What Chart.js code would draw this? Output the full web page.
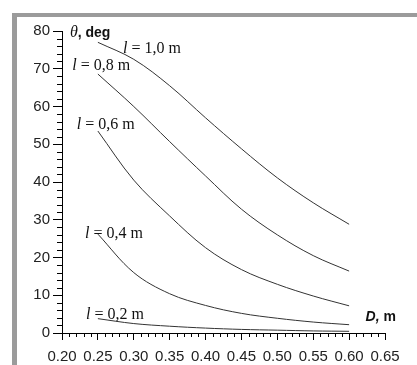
<!DOCTYPE html>
<html lang="en">
<head>
  <meta charset="UTF-8" />
  <title>Angle vs diameter</title>
  <script src="https://cdn.jsdelivr.net/npm/chart.js"></script>
  <style>
    body {
      margin: 0;
      background: #fff;
      overflow: hidden;
    }
    #wrap {
      position: relative;
      width: 417px;
      height: 365px;
    }
    #frame {
      position: absolute;
      left: 12px;
      top: 13px;
      width: 405px;
      height: 352px;
      border-top: 4px solid #9b9b9b;
      border-left: 5px solid #9b9b9b;
      box-sizing: border-box;
      pointer-events: none;
    }
  </style>
</head>
<body>
  <div id="wrap">
    <canvas id="angleChart" width="417" height="365"></canvas>
    <div id="frame"></div>
  </div>

  <script>
    const diameters = [0.25, 0.30, 0.35, 0.40, 0.45, 0.50, 0.55, 0.60];
    // theta (deg) for each rod length l
    const theta10 = [77.0, 72.5, 65.5, 57.0, 48.8, 41.1, 34.5, 28.8];
    const theta08 = [68.6, 60.0, 50.7, 41.6, 32.8, 26.0, 20.5, 16.4];
    const theta06 = [53.5, 40.5, 31.0, 22.6, 16.8, 12.9, 9.8, 7.2];
    const theta04 = [26.2, 16.0, 10.4, 7.3, 5.2, 3.9, 2.9, 2.2];
    const theta02 = [3.8, 2.5, 1.8, 1.3, 0.95, 0.75, 0.55, 0.45];
    const lengthLabels = ['1,0', '0,8', '0,6', '0,4', '0,2'];
    const xTicks = [0.20, 0.25, 0.30, 0.35, 0.40, 0.45, 0.50, 0.55, 0.60, 0.65];
    const yTicks = [0, 10, 20, 30, 40, 50, 60, 70, 80];

    const series = [theta10, theta08, theta06, theta04, theta02];

    // where each "l = ..." label sits, in data units (left edge, vertical middle)
    const labelAnchors = [
      { x: 0.285, y: 75.3 },
      { x: 0.2143, y: 70.7 },
      { x: 0.2205, y: 55.1 },
      { x: 0.232, y: 26.4 },
      { x: 0.2334, y: 4.9 }
    ];

    const toPoints = vals => vals.map((v, i) => ({ x: diameters[i], y: v }));

    const tickFont = { family: "'Liberation Sans', Arial, sans-serif", size: 15 };

    const minorTicks = {
      id: 'minorTicks',
      afterDraw(chart) {
        const { ctx, scales: { x, y }, chartArea } = chart;
        ctx.save();
        ctx.strokeStyle = '#000';
        ctx.lineWidth = 1;
        ctx.beginPath();
        for (let i = 20; i <= 65; i++) {
          if (i % 5 === 0) continue;
          const px = Math.round(x.getPixelForValue(i / 100)) + 0.5;
          ctx.moveTo(px, chartArea.bottom);
          ctx.lineTo(px, chartArea.bottom + 4);
        }
        for (let j = 0; j <= 80; j += 2) {
          if (j % 10 === 0) continue;
          const py = Math.round(y.getPixelForValue(j)) + 0.5;
          ctx.moveTo(chartArea.left - 5, py);
          ctx.lineTo(chartArea.left, py);
        }
        ctx.stroke();
        ctx.restore();
      }
    };

    const annotations = {
      id: 'annotations',
      afterDraw(chart) {
        const { ctx, scales: { x, y } } = chart;
        ctx.save();
        ctx.fillStyle = '#111';
        ctx.textBaseline = 'middle';
        ctx.textAlign = 'left';
        const serif = "'Liberation Serif', 'Times New Roman', serif";
        lengthLabels.forEach((txt, i) => {
          const a = labelAnchors[i];
          let px = x.getPixelForValue(a.x);
          const py = y.getPixelForValue(a.y);
          ctx.font = 'italic 16px ' + serif;
          ctx.fillText('l', px, py);
          px += ctx.measureText('l').width;
          ctx.font = '16px ' + serif;
          ctx.fillText(' = ' + txt + ' m', px, py);
        });

        // axis titles
        let px = x.getPixelForValue(0.211);
        let py = y.getPixelForValue(79.4);
        ctx.font = 'italic 16px ' + serif;
        ctx.fillText('\u03b8', px, py);
        px += ctx.measureText('\u03b8').width;
        ctx.font = "bold 14px 'Liberation Sans', Arial, sans-serif";
        ctx.fillText(', deg', px, py);

        px = x.getPixelForValue(0.623);
        py = y.getPixelForValue(4.2);
        ctx.font = "italic bold 14px 'Liberation Sans', Arial, sans-serif";
        ctx.fillText('D,', px, py);
        px += ctx.measureText('D, ').width;
        ctx.font = "bold 14px 'Liberation Sans', Arial, sans-serif";
        ctx.fillText('m', px, py);
        ctx.restore();
      }
    };

    const ctx = document.getElementById('angleChart').getContext('2d');
    const angleChart = new Chart(ctx, {
      type: 'line',
      data: {
        datasets: series.map((vals, i) => ({
          label: 'l = ' + lengthLabels[i] + ' m',
          data: toPoints(vals),
          borderColor: '#333',
          borderWidth: 1,
          pointRadius: 0,
          fill: false,
          tension: 0.35
        }))
      },
      options: {
        responsive: false,
        animation: false,
        devicePixelRatio: 1,
        layout: { padding: { left: 0, right: 32, top: 31, bottom: 0 } },
        plugins: {
          legend: { display: false },
          tooltip: { enabled: false }
        },
        scales: {
          x: {
            type: 'linear',
            min: xTicks[0],
            max: xTicks[xTicks.length - 1],
            afterFit: s => { s.height = 32; },
            afterBuildTicks: s => { s.ticks = xTicks.map(v => ({ value: v })); },
            border: { color: '#000', width: 1 },
            grid: { drawOnChartArea: false, drawTicks: true, tickLength: 7, color: '#000' },
            ticks: {
              color: '#222',
              font: tickFont,
              padding: 8,
              maxRotation: 0,
              autoSkip: false,
              callback: v => v.toFixed(2)
            }
          },
          y: {
            min: yTicks[0],
            max: yTicks[yTicks.length - 1],
            afterFit: s => { s.width = 62; },
            afterBuildTicks: s => { s.ticks = yTicks.map(v => ({ value: v })); },
            border: { color: '#000', width: 1 },
            grid: { drawOnChartArea: false, drawTicks: true, tickLength: 9, color: '#000' },
            ticks: {
              color: '#222',
              font: tickFont,
              padding: 3,
              autoSkip: false
            }
          }
        }
      },
      plugins: [minorTicks, annotations]
    });
  </script>
</body>
</html>
